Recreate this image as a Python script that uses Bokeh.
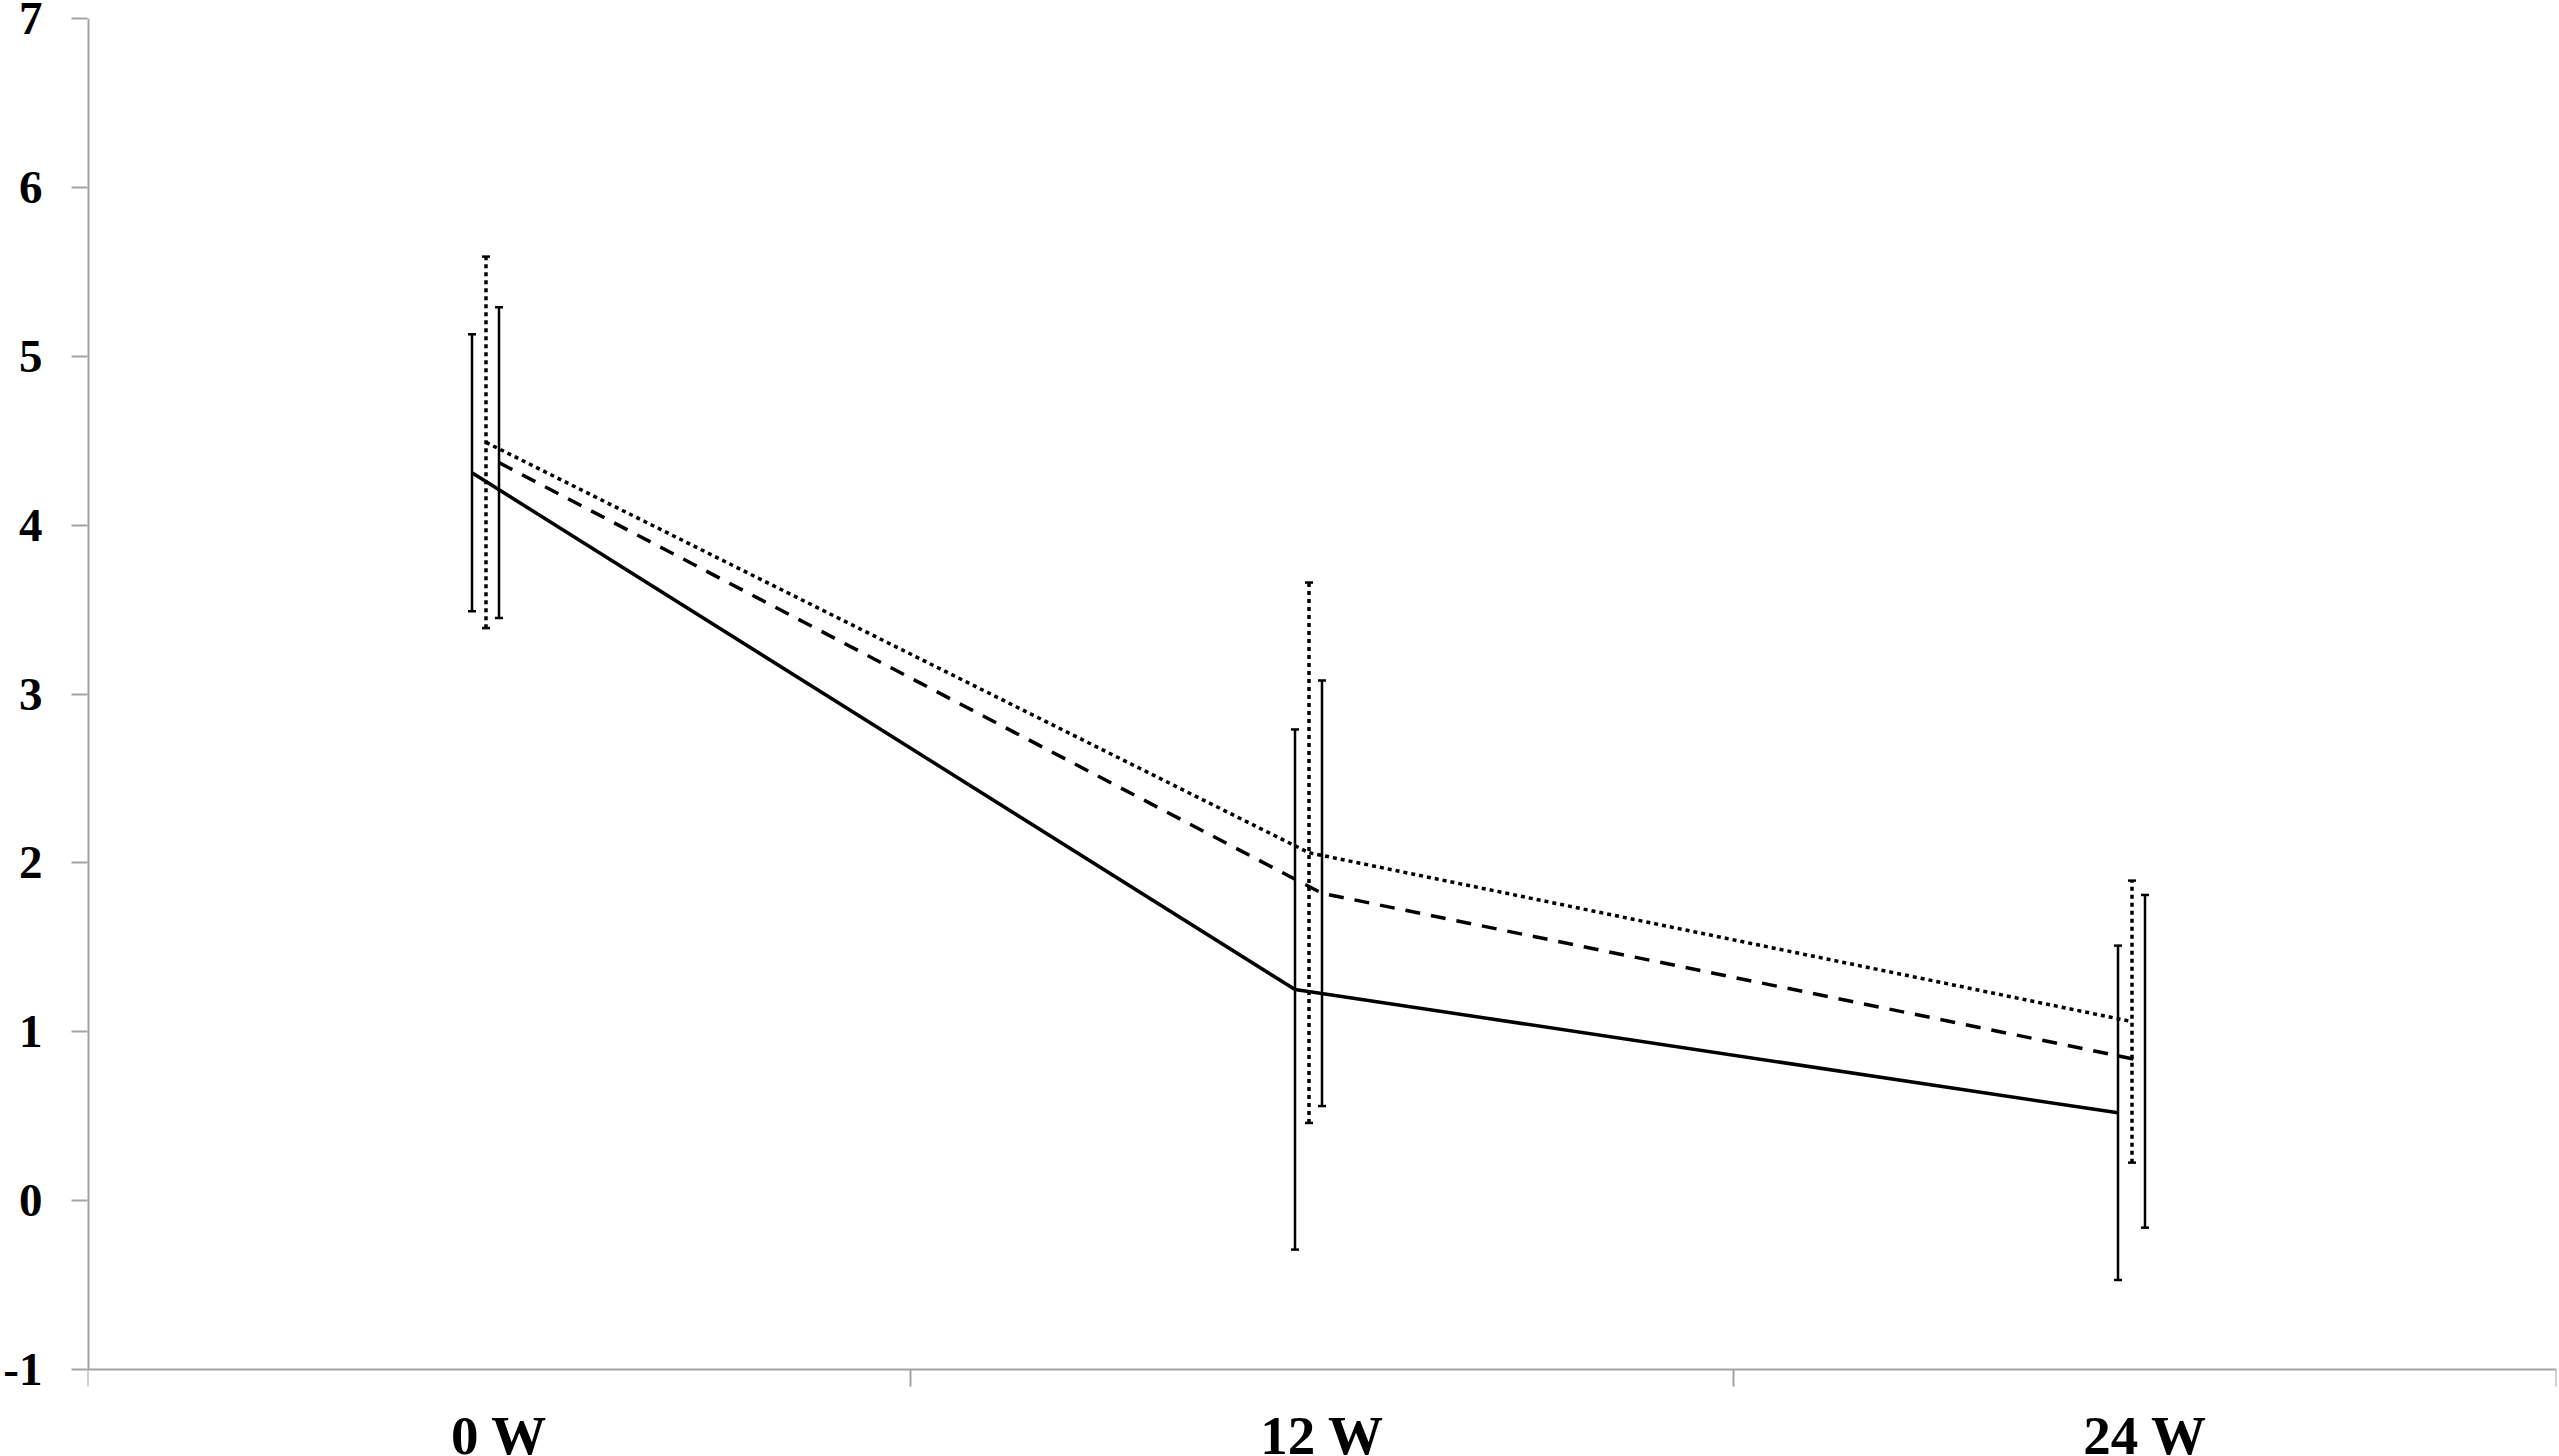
from bokeh.plotting import figure
from bokeh.models import Range1d, FixedTicker, ColumnDataSource, Whisker, TeeHead
from bokeh.embed import file_html
from bokeh.resources import INLINE

# ---- data ----
categories = ["0 W", "12 W", "24 W"]

solid_mean = [4.31, 1.25, 0.52]
solid_err = [0.82, 1.54, 0.99]

dotted_mean = [4.49, 2.06, 1.06]
dotted_err = [1.10, 1.60, 0.835]

dashed_mean = [4.37, 1.82, 0.825]
dashed_err = [0.92, 1.26, 0.985]

y_ticks = [-1, 0, 1, 2, 3, 4, 5, 6, 7]

# ---- layout ----
GRAY = "#a3a3a3"
FONT = "Liberation Serif"
W, H = 2559, 1456
TOP, LEFT, RIGHT = 18, 85, 3
LABEL_SPACE = 87          # px below the x axis reserved for category names
plot_px = H - TOP - LABEL_SPACE
px_per_unit = plot_px / (y_ticks[-1] - y_ticks[0])
y_low = y_ticks[0] - LABEL_SPACE / px_per_unit

p = figure(width=W, height=H, output_backend="svg", toolbar_location=None,
           x_range=Range1d(0, len(categories)), y_range=Range1d(y_low, y_ticks[-1]),
           min_border_left=LEFT, min_border_right=RIGHT, min_border_top=TOP, min_border_bottom=0)
p.outline_line_color = None
p.xgrid.visible = False
p.ygrid.visible = False
p.background_fill_color = "white"
p.border_fill_color = "white"

centers = [i + 0.5 for i in range(len(categories))]

# y axis
p.yaxis.ticker = FixedTicker(ticks=y_ticks)
p.yaxis.major_label_overrides = {t: str(t) for t in y_ticks}
p.yaxis.axis_line_color = None
p.yaxis.major_tick_line_color = GRAY
p.yaxis.major_tick_line_width = 2
p.yaxis.major_tick_out = 16
p.yaxis.major_tick_in = 0
p.yaxis.minor_tick_line_color = None
p.yaxis.major_label_text_font = FONT
p.yaxis.major_label_text_font_style = "bold"
p.yaxis.major_label_text_font_size = "47px"
p.yaxis.major_label_text_color = "black"
p.yaxis.major_label_standoff = 29

# y axis line (only over the value range)
p.segment(x0=[0], y0=[y_ticks[0]], x1=[0], y1=[y_ticks[-1]], line_color=GRAY, line_width=4)

# x axis drawn at y = -1, with boundary ticks and category names below it
p.xaxis.fixed_location = y_ticks[0]
p.xaxis.ticker = FixedTicker(ticks=centers, minor_ticks=list(range(len(categories) + 1)))
p.xaxis.major_label_overrides = {c: lab for c, lab in zip(centers, categories)}
p.xaxis.axis_line_color = GRAY
p.xaxis.axis_line_width = 2
p.xaxis.major_tick_line_color = None
p.xaxis.major_tick_out = 0
p.xaxis.major_tick_in = 0
p.xaxis.minor_tick_line_color = GRAY
p.xaxis.minor_tick_line_width = 2
p.xaxis.minor_tick_out = 17
p.xaxis.minor_tick_in = 0
p.xaxis.major_label_text_font = FONT
p.xaxis.major_label_text_font_style = "bold"
p.xaxis.major_label_text_font_size = "55px"
p.xaxis.major_label_text_color = "black"
p.xaxis.major_label_standoff = 18

# series: (means, errs, x offset in category units, line dash, bar dash, width)
series = [
    (solid_mean, solid_err, -0.0328, "solid", "solid", 3.5),
    (dotted_mean, dotted_err, -0.0158, "4 4", "4 4", 3.5),
    (dashed_mean, dashed_err, 0.0, "15 11", "solid", 3.5),
]

for means, errs, off, ldash, bdash, lw in series:
    xs = [c + off for c in centers]
    src = ColumnDataSource(data=dict(
        x=xs, y=means,
        lower=[m - e for m, e in zip(means, errs)],
        upper=[m + e for m, e in zip(means, errs)]))
    p.line("x", "y", source=src, line_color="black", line_width=lw, line_dash=ldash)
    bar_w = 3.5 if bdash != "solid" else 2.5
    w = Whisker(base="x", lower="lower", upper="upper", source=src, dimension="height",
                line_color="black", line_width=bar_w, line_dash=bdash,
                upper_head=TeeHead(size=8, line_color="black", line_width=2.5),
                lower_head=TeeHead(size=8, line_color="black", line_width=2.5))
    p.add_layout(w)

open("out.html", "w").write(file_html(p, INLINE))
